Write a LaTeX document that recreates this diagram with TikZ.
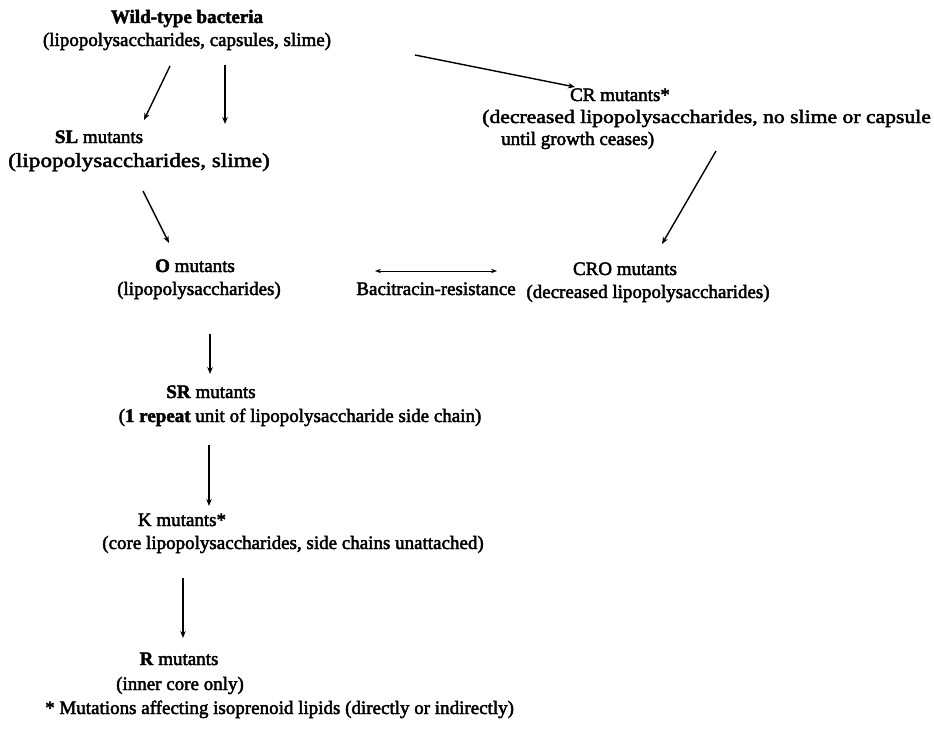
\documentclass[tikz,border=0pt]{standalone}
\usepackage{fontspec}
\setmainfont{Liberation Serif}
\usetikzlibrary{arrows.meta}
% text drawn with a thin outline so that it looks a little heavier
\newcommand\inked[1]{\special{pdf:literal direct 2 Tr 0.45 w}#1\special{pdf:literal direct 0 Tr}}
\begin{document}
\begin{tikzpicture}[x=1pt,y=-1pt,
  txt/.style={font=\fontsize{19}{23}\selectfont, inner sep=0pt, anchor=base},
  arr/.style={line width=1.4pt, -{Stealth[length=7pt,width=5.5pt]}},
  dbl/.style={line width=1pt, {Stealth[length=6pt,width=4.5pt]}-{Stealth[length=6pt,width=4.5pt]}}]
\useasboundingbox (0,0) rectangle (934,728);

% wild type
\node[txt] (wt1) at (187,23) {\inked{\textbf{Wild-type bacteria}}};
\node[txt] (wt2) at (187,46) {\inked{(lipopolysaccharides, capsules, slime)}};

% CR branch
\node[txt] (cr1) at (620,101) {\inked{CR mutants*}};
\node[txt, anchor=base west] (cr2) at (482,123) {\inked{\scalebox{1.14}[1]{(decreased lipopolysaccharides, no slime or capsule}}};
\node[txt, anchor=base west] (cr3) at (501,145) {\inked{until growth ceases)}};

% SL
\node[txt] (sl1) at (99,143) {\inked{\textbf{SL} mutants}};
\node[txt, font=\fontsize{20}{24}\selectfont] (sl2) at (139,167) {\inked{\scalebox{1.16}[1]{(lipopolysaccharides, slime)}}};

% O, bacitracin, CRO
\node[txt] (o1) at (195,272) {\inked{\textbf{O} mutants}};
\node[txt] (o2) at (199,295) {\inked{(lipopolysaccharides)}};
\node[txt] (bac) at (436,295) {\inked{Bacitracin-resistance}};
\node[txt] (cro1) at (625,275) {\inked{CRO mutants}};
\node[txt] (cro2) at (648,298) {\inked{(decreased lipopolysaccharides)}};

% SR
\node[txt] (sr1) at (211,398) {\inked{\textbf{SR} mutants}};
\node[txt] (sr2) at (300,422) {\inked{(\textbf{1 repeat} unit of lipopolysaccharide side chain)}};

% K
\node[txt] (k1) at (182,526) {\inked{K mutants*}};
\node[txt] (k2) at (293,549) {\inked{(core lipopolysaccharides, side chains unattached)}};

% R
\node[txt] (r1) at (179,665) {\inked{\textbf{R} mutants}};
\node[txt] (r2) at (180,690) {\inked{(inner core only)}};

% footnote
\node[txt, anchor=base west] (note) at (45,714) {\inked{* Mutations affecting isoprenoid lipids (directly or indirectly)}};

% connector end points
\coordinate (a1s) at (170,66);  \coordinate (a1e) at (144,120);
\coordinate (a2s) at (225,65);  \coordinate (a2e) at (225,124);
\coordinate (a3s) at (415,55);  \coordinate (a3e) at (575,87);
\coordinate (a4s) at (716,151); \coordinate (a4e) at (662,244);
\coordinate (a5s) at (143,191); \coordinate (a5e) at (169,243);
\coordinate (b1) at (375,271);  \coordinate (b2) at (497,271);
\coordinate (a6s) at (210,334); \coordinate (a6e) at (210,374);
\coordinate (a7s) at (209,445); \coordinate (a7e) at (209,506);
\coordinate (a8s) at (183,578); \coordinate (a8e) at (183,638);

\draw[arr] (a1s) -- (a1e);
\draw[arr] (a2s) -- (a2e);
\draw[arr] (a3s) -- (a3e);
\draw[arr] (a4s) -- (a4e);
\draw[arr] (a5s) -- (a5e);
\draw[dbl] (b1) -- (b2);
\draw[arr] (a6s) -- (a6e);
\draw[arr] (a7s) -- (a7e);
\draw[arr] (a8s) -- (a8e);
\end{tikzpicture}
\end{document}
